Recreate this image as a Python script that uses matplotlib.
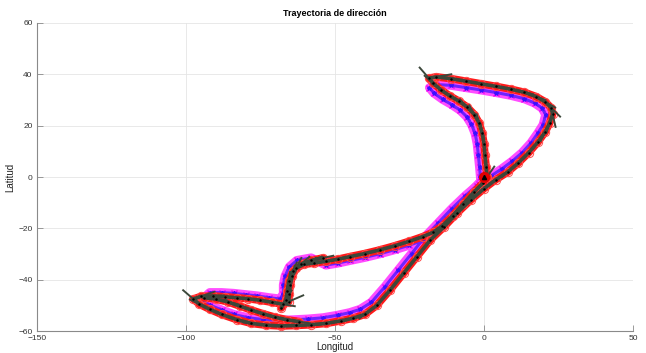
import numpy as np
import matplotlib
matplotlib.use("Agg")
import matplotlib.pyplot as plt

plt.rcParams["font.family"] = ["Liberation Sans", "DejaVu Sans"]

# estimated track (one lap), longitude / latitude
track_lon = [1.0, 0.7, 0.3, 0.0, -0.6, -1.6, -3.2, -5.6, -8.5, -11.5, -14.5, -17.0, -18.5,
             -16.0, -11.0, -6.0, -1.0, 4.0, 9.0, 13.5, 17.5, 20.5, 22.5, 23.0,
             22.0, 20.5, 18.0, 15.0, 11.5, 8.0, 4.0, 0.0, -4.5, -9.0, -13.5, -18.0, -22.5,
             -27.0, -31.5, -36.0, -40.0,
             -44.0, -48.0, -53.0, -58.0, -63.0, -68.0, -73.0, -78.0, -83.0, -88.0, -92.0,
             -95.5, -97.5,
             -95.0, -91.0, -87.0, -83.0, -79.0, -75.0, -71.0, -67.5, -65.5,
             -65.3, -65.0, -64.3, -63.0, -60.5, -57.0,
             -53.0, -49.0, -45.0, -40.0, -35.0, -30.0, -25.0, -20.5, -17.0, -14.0, -10.5,
             -7.0, -3.5, -0.5, 1.0]
track_lat = [0.0, 4.0, 8.5, 13.0, 17.0, 21.0, 24.3, 27.2, 29.6, 31.6, 34.0, 36.5, 38.5,
             39.0, 38.3, 37.3, 36.3, 35.3, 34.2, 33.0, 31.3, 29.3, 27.0, 24.5,
             21.0, 17.5, 13.5, 9.5, 5.5, 2.0, -1.0, -4.5, -9.0, -14.0, -19.5, -24.5, -31.0,
             -37.5, -44.0, -50.0, -53.5,
             -55.0, -56.0, -57.0, -57.5, -57.8, -58.0, -57.7, -57.0, -55.5, -53.5, -51.5,
             -49.5, -47.5,
             -46.5, -46.3, -46.6, -47.0, -47.4, -48.0, -48.8, -49.5, -48.5,
             -45.5, -42.0, -38.5, -35.5, -34.0, -33.5,
             -32.8, -32.0, -31.0, -29.8, -28.4, -26.8, -25.0, -23.2, -21.5, -19.0, -15.0,
             -10.5, -6.0, -2.5, 0.0]

# second lap cutting across the lower-left loop
lap2_lon = [-94.0, -90.0, -86.0, -82.0, -78.0, -74.0, -70.0, -66.0, -62.0]
lap2_lat = [-47.0, -47.5, -48.6, -50.2, -51.8, -53.3, -54.6, -55.6, -56.3]

# second lap through the hairpin
lap3_lon = [-68.0, -66.5, -66.0, -65.5, -64.0, -61.5, -58.0, -54.0]
lap3_lat = [-51.0, -48.0, -44.5, -40.5, -36.5, -34.0, -32.5, -31.5]

# raw measured positions (magenta / blue band)
raw_lon = [-1.2, -1.5, -1.9, -2.3, -3.0, -4.2, -5.8, -8.0, -10.8, -13.8, -16.8, -18.3,
           -16.0, -11.0, -6.0, -1.0, 4.0, 9.0, 13.5, 17.0, 19.5, 20.7,
           19.8, 18.0, 15.7, 12.8, 9.5, 6.0, 2.3, -1.8, -6.3, -10.8, -15.3, -19.8, -24.3,
           -28.8, -33.3, -37.8, -41.5,
           -45.0, -49.0, -54.0, -59.0, -64.0, -69.0, -74.0, -79.0, -84.0, -88.0, -92.0, -95.0,
           -92.0, -88.0, -84.0, -80.0, -76.0, -72.0, -68.5,
           -67.3, -67.3, -66.7, -65.3, -62.8, -58.0,
           -53.0, -49.0, -45.0, -40.0, -35.0, -30.0, -25.0, -20.0,
           -16.0, -12.5, -9.0, -5.5, -2.5]
raw_lat = [0.0, 4.0, 8.5, 13.0, 17.0, 20.5, 23.5, 26.0, 28.2, 30.2, 32.7, 34.8,
           36.0, 35.7, 34.8, 33.9, 32.9, 31.8, 30.5, 28.8, 26.8, 24.3,
           20.3, 17.0, 13.2, 9.5, 6.2, 3.2, 0.4, -2.8, -7.3, -12.3, -17.8, -23.3, -29.8,
           -36.3, -42.8, -48.8, -51.5,
           -52.8, -53.8, -54.8, -55.3, -55.6, -55.8, -55.5, -54.8, -53.5, -51.8, -49.8, -48.2,
           -45.0, -45.0, -45.3, -45.8, -46.3, -47.0, -47.5,
           -45.5, -42.0, -38.5, -35.0, -32.5, -31.5,
           -34.3, -33.5, -32.5, -31.3, -29.9, -28.3, -26.5, -24.5,
           -21.0, -16.5, -12.0, -7.5, -3.5]

start_lon = [0.0]
start_lat = [0.0]

arrow_len = 8.0
dark = "#3b473a"

fig = plt.figure(figsize=(6.46, 3.53), dpi=100)
ax = fig.add_axes([0.057, 0.062, 0.923, 0.873])


def draw_path(lon, lat):
    lon = np.asarray(lon)
    lat = np.asarray(lat)
    ax.plot(lon, lat, color="#ff1a1a", lw=5.5, solid_capstyle="round", zorder=3)
    ax.plot(lon, lat, "o", ms=6, mfc="none", mec="#ff4a4a", mew=0.7, zorder=3)
    ax.plot(lon, lat, color=dark, lw=2.6, solid_capstyle="round", zorder=4)
    dx = np.diff(lon)
    dy = np.diff(lat)
    n = np.hypot(dx, dy)
    ax.quiver(lon[:-1], lat[:-1], dx / n * arrow_len, dy / n * arrow_len,
              angles="xy", scale_units="xy", scale=1, color=dark,
              width=0.0032, headwidth=1, headlength=0, headaxislength=0, zorder=4)
    ax.plot(lon, lat, ".", color="k", ms=1.5, zorder=5)


# raw measurements
ax.plot(raw_lon, raw_lat, color="#ff22ff", lw=6.5, alpha=0.8, zorder=2)
ax.plot(raw_lon, raw_lat, "x", color="#ee00ee", ms=5, mew=1.0, zorder=2)
ax.plot(raw_lon, raw_lat, color="#4a1aff", lw=2.2, alpha=0.8, zorder=2)
ax.plot(raw_lon, raw_lat, "*", color="#3a10ff", ms=3, zorder=2)

draw_path(track_lon, track_lat)
draw_path(lap2_lon, lap2_lat)
draw_path(lap3_lon, lap3_lat)

ax.plot(start_lon, start_lat, "o", color="#e00000", ms=7, zorder=6)
ax.plot(start_lon, start_lat, "^", color="k", ms=3, zorder=6)

ax.set_xlim(-150, 50)
ax.set_ylim(-60, 60)
ax.set_xticks([-150, -100, -50, 0, 50])
ax.set_yticks([-60, -40, -20, 0, 20, 40, 60])
ax.grid(True, color="#e5e5e5", lw=0.6)
ax.set_axisbelow(True)
for side in ["top", "right"]:
    ax.spines[side].set_visible(False)
for side in ["left", "bottom"]:
    ax.spines[side].set_color("#8a8a8a")
    ax.spines[side].set_linewidth(0.8)
ax.tick_params(direction="in", length=4, width=0.6, color="#8a8a8a",
               labelsize=6, labelcolor="#333333", pad=3)

ax.set_title("Trayectoria de dirección", fontsize=6.5, fontweight="bold", pad=5)
ax.set_xlabel("Longitud", fontsize=7, labelpad=0, color="#222222")
ax.set_ylabel("Latitud", fontsize=7, labelpad=2, color="#222222")

fig.savefig("out.png", dpi=100)
